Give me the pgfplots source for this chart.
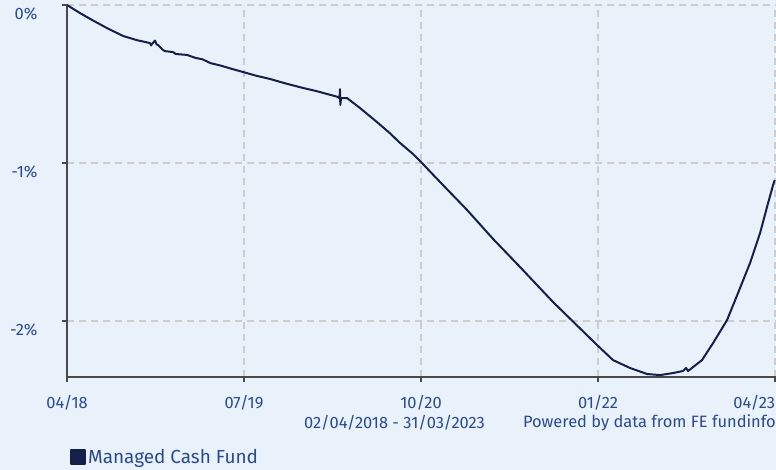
\documentclass[border=0pt]{standalone}
\usepackage{fontspec}
\setmainfont{Fira Sans}
\usepackage{pgfplots}
\pgfplotsset{compat=1.18}
\definecolor{bg}{HTML}{E9F2FA}
\definecolor{txt}{HTML}{2A4A8E}
\definecolor{ln}{HTML}{15204A}
\definecolor{gridc}{HTML}{CDCDCD}
\definecolor{axc}{HTML}{4A4A4A}
\begin{document}
\begin{tikzpicture}
\fill[bg] (0,0) rectangle (776bp,470bp);
\begin{axis}[
  at={(67bp,93bp)}, anchor=south west,
  scale only axis, width=709bp, height=372bp,
  xmin=0, xmax=60.08, ymin=-2.354, ymax=0,
  axis lines*=left,
  axis line style={axc, line width=1.6bp, -},
  xtick={0,15,30,45,60},
  xticklabels={04/18,07/19,10/20,01/22,\makebox[0pt][r]{04/23}},
  ytick={0,-1,-2},
  yticklabels={0\%,-1\%,-2\%},
  tick style={axc, line width=1.4bp},
  major tick length=5bp, tick align=outside,
  xmajorgrids, ymajorgrids,
  grid style={gridc, line width=1.6bp, dash pattern=on 7bp off 5bp},
  ticklabel style={font=\fontsize{16.5}{19}\selectfont, text=txt},
  /pgf/number format/assume math mode=true,
  yticklabel style={yshift=-9bp, xshift=-21bp},
  xticklabel style={yshift=-10bp},
  legend style={at={(axis description cs:0.004,-0.215)}, anchor=west,
    draw=none, fill=none, inner sep=0pt, font=\fontsize{19}{22}\selectfont, text=txt},
  legend cell align=left,
  legend image code/.code={\fill[ln] (0bp,-7bp) rectangle (14bp,7bp);},
]
\addplot[ln, line width=2bp, line join=round] coordinates {
(0,0) (1.10,-0.051) (2.2,-0.098) (3.39,-0.146) (4.75,-0.196) (5.9,-0.222) (7.03,-0.241)
(7.12,-0.256) (7.20,-0.247) (7.46,-0.225) (7.60,-0.250) (7.71,-0.253) (8.14,-0.285)
(8.30,-0.292) (9.0,-0.298) (9.2,-0.310) (10.17,-0.316) (10.9,-0.335) (11.5,-0.344)
(12.12,-0.367) (13.0,-0.383) (14.0,-0.405) (14.92,-0.424) (16.0,-0.447) (17.20,-0.468)
(18.5,-0.496) (20.0,-0.525) (21.2,-0.546) (22.03,-0.563) (22.97,-0.582)
(23.10,-0.590) (23.13,-0.532) (23.16,-0.633) (23.22,-0.589) (23.73,-0.589)
(24.83,-0.652) (26.27,-0.741) (27.37,-0.812) (28.22,-0.873) (29.32,-0.943)
(30.08,-1.000) (31.61,-1.120) (33.90,-1.297) (36.10,-1.480) (38.39,-1.658)
(41.19,-1.880) (44.92,-2.152) (46.27,-2.247) (47.71,-2.297) (49.15,-2.335)
(50.25,-2.342) (51.36,-2.329) (52.20,-2.316) (52.46,-2.297) (52.63,-2.316)
(53.81,-2.247) (54.75,-2.139) (55.93,-1.994) (56.86,-1.823) (57.88,-1.633)
(58.73,-1.443) (59.41,-1.253) (59.83,-1.140) (59.97,-1.108)
};
\addlegendentry{Managed Cash Fund}
\end{axis}
\node[text=txt, font=\fontsize{16.5}{19}\selectfont] at (394.5bp,47bp) {02/04/2018 - 31/03/2023};
\node[text=txt, font=\fontsize{16.5}{19}\selectfont, anchor=east, inner sep=0pt] at (776bp,47bp) {Powered by data from FE fundinfo};
\pgfresetboundingbox
\useasboundingbox (0,0) rectangle (776bp,470bp);
\end{tikzpicture}
\end{document}
